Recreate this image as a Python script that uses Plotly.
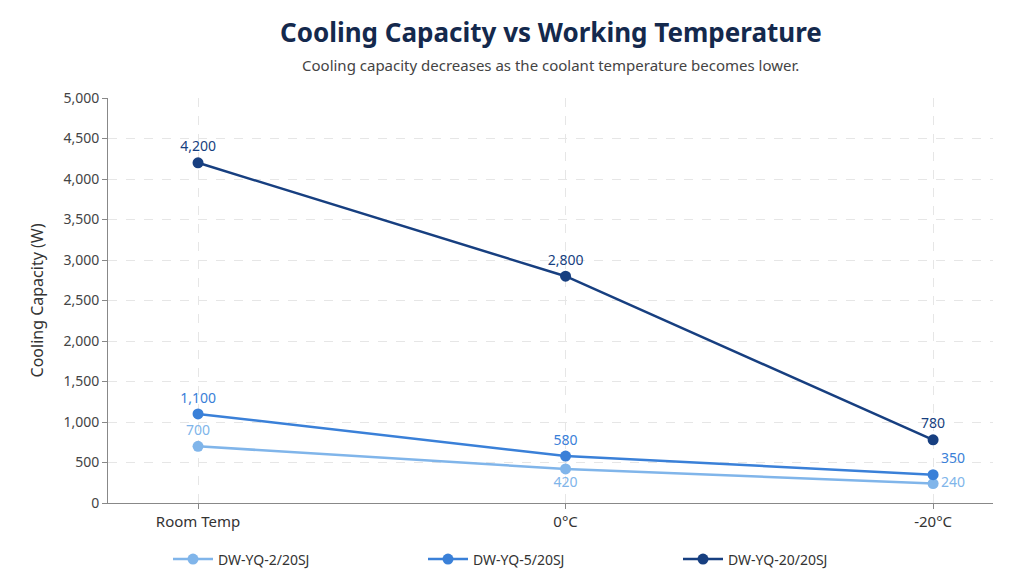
import plotly.graph_objects as go

categories = ["Room Temp", "0°C", "-20°C"]
series_names = ["DW-YQ-2/20SJ", "DW-YQ-5/20SJ", "DW-YQ-20/20SJ"]
vals_2 = [700, 420, 240]
vals_5 = [1100, 580, 350]
vals_20 = [4200, 2800, 780]
colors = ["#80b5ea", "#3a80d8", "#173f80"]
positions = [
    ["top center", "bottom center", "middle right"],
    ["top center", "top center", "top right"],
    ["top center", "top center", "top center"],
]

fig = go.Figure()
for name, vals, c, pos in zip(series_names, [vals_2, vals_5, vals_20], colors, positions):
    fig.add_trace(go.Scatter(
        x=categories, y=vals, name=name, mode="lines+markers+text",
        line=dict(color=c, width=2.5), marker=dict(color=c, size=11),
        text=[f"{v:,}" for v in vals], textposition=pos,
        textfont=dict(color=c, size=14), cliponaxis=False,
    ))

fig.add_annotation(text="<b>Cooling Capacity vs Working Temperature</b>", x=0.5, xref="paper",
                   y=22, yref="paper", showarrow=False, font=dict(size=26, color="#14294d"))
fig.update_layout(
    width=1024, height=576, plot_bgcolor="white", paper_bgcolor="white",
    font=dict(family="Noto Sans", color="#444"),
    margin=dict(l=100, r=39, t=90, b=81, autoexpand=False),
    annotations=[
        dict(text="<b>Cooling Capacity vs Working Temperature</b>", x=0.5, xref="paper", xanchor="center",
             y=24, yref="paper", yanchor="middle", showarrow=False, font=dict(size=26, color="#14294d")),
        dict(text="Cooling capacity decreases as the coolant temperature becomes lower.", x=0.5, xref="paper",
             xanchor="center", y=0, showarrow=False, font=dict(size=15, color="#444")),
    ],
    legend=dict(orientation="h", x=0.5, xanchor="center", y=-0.1, yanchor="top",
                font=dict(size=14, color="#333"), entrywidth=200, itemwidth=40),
    xaxis=dict(type="category", range=[-0.245, 2.163], showgrid=True, gridcolor="#e6e6e6", griddash="dash",
               showline=True, linecolor="#888", ticks="outside", tickcolor="#888", tickfont=dict(size=15, color="#333")),
    yaxis=dict(range=[0, 5000], dtick=500, tickformat=",", showgrid=True, gridcolor="#e6e6e6", griddash="dash",
               showline=True, linecolor="#888", ticks="outside", tickcolor="#888", tickfont=dict(size=14, color="#444"),
               title=dict(text="Cooling Capacity (W)", font=dict(size=16, color="#333")), zeroline=False),
)
# place title/subtitle in pixel terms via paper coords
ph = 576 - 90 - 81
fig.layout.annotations = ()
fig.add_annotation(text="<b>Cooling Capacity vs Working Temperature</b>", xref="paper", x=0.5, xanchor="center",
                   yref="paper", y=1 + (90 - 24) / ph, yanchor="middle", showarrow=False,
                   font=dict(size=26, color="#14294d"))
fig.add_annotation(text="Cooling capacity decreases as the coolant temperature becomes lower.", xref="paper",
                   x=0.5, xanchor="center", yref="paper", y=1 + (90 - 57) / ph, yanchor="middle",
                   showarrow=False, font=dict(size=15, color="#444"))
fig.write_html("out.html")
